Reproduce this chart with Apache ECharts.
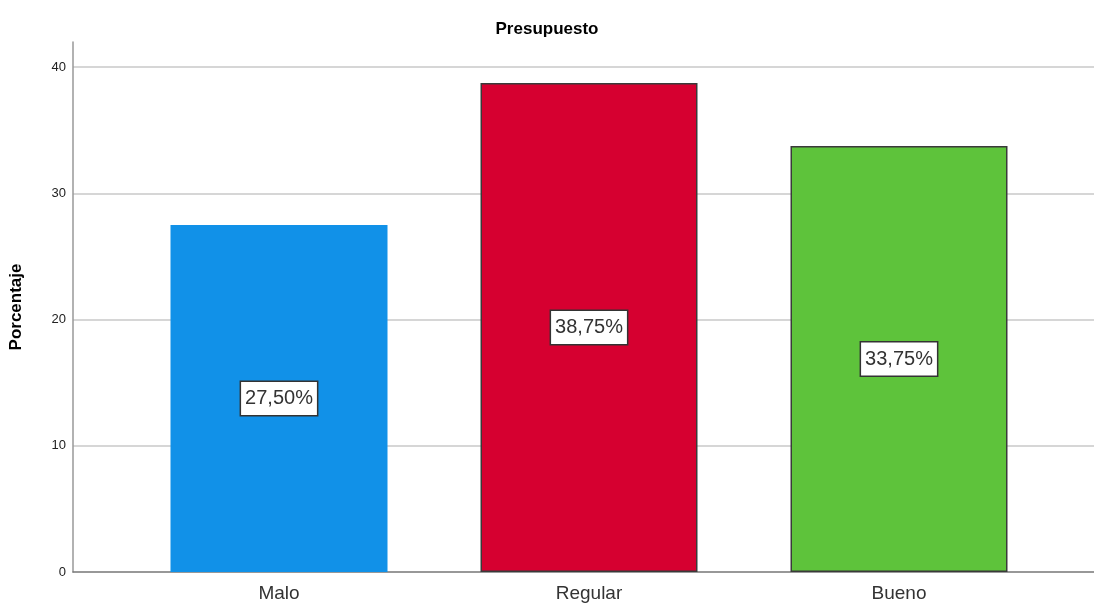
<!DOCTYPE html>
<html>
<head>
<meta charset="utf-8">
<script src="https://cdn.jsdelivr.net/npm/echarts@6/dist/echarts.min.js"></script>
<style>
  html, body { margin: 0; padding: 0; background: #fff; }
  #chart { width: 1094px; height: 604px; }
</style>
</head>
<body>
<div id="chart"></div>
<script>
// datos
const categorias = ['Malo', 'Regular', 'Bueno']
const porcentajes = [27.5, 38.75, 33.75]
const colores = ['#1191e8', '#d60030', '#5ec33b']
const bordes = ['#1191e8', '#3a3a3a', '#3a3a3a']
const yTicks = [0, 10, 20, 30, 40]

const yMax = 42

const chartInstance = echarts.init(document.getElementById('chart'))

// formato con coma decimal
const fmt = (v) => v.toFixed(2).replace('.', ',') + '%'

const chartSet = {
  backgroundColor: '#fff',
  textStyle: { fontFamily: 'Liberation Sans, Arial, sans-serif' },
  title: {
    text: 'Presupuesto',
    left: 'center',
    top: 16,
    textStyle: { fontSize: 17, fontWeight: 'bold', color: '#000' },
  },
  grid: [
    // marco del eje y + lineas de cuadricula
    { left: 72, right: 0, top: 42, bottom: 32 },
    // zona de barras
    { left: 124, right: 40, top: 42, bottom: 32 },
  ],
  xAxis: [
    {
      gridIndex: 0,
      type: 'category',
      data: [''],
      axisLine: { lineStyle: { color: '#777', width: 1.5 } },
      axisTick: { show: false },
      axisLabel: { show: false },
    },
    {
      gridIndex: 1,
      type: 'category',
      data: categorias,
      axisLine: { show: false },
      axisTick: { show: false },
      axisLabel: { fontSize: 19, color: '#333', margin: 12 },
    },
  ],
  yAxis: [
    {
      gridIndex: 0,
      type: 'value',
      min: 0,
      max: yMax,
      interval: 10,
      name: 'Porcentaje',
      nameLocation: 'middle',
      nameGap: 48,
      nameTextStyle: { fontSize: 17, fontWeight: 'bold', color: '#000' },
      axisLine: { show: true, lineStyle: { color: '#999', width: 1.5 } },
      axisTick: { show: false },
      axisLabel: {
        fontSize: 13,
        color: '#222',
        margin: 7,
        showMaxLabel: false,
        formatter: (v) => (yTicks.includes(v) ? String(v) : ''),
      },
      splitLine: {
        show: true,
        showMaxLine: false,
        showMinLine: false,
        lineStyle: { color: '#d6d6d6', width: 2 },
      },
    },
    {
      gridIndex: 1,
      type: 'value',
      min: 0,
      max: yMax,
      show: false,
      splitLine: { show: false },
    },
  ],
  series: [
    {
      type: 'bar',
      xAxisIndex: 1,
      yAxisIndex: 1,
      barWidth: 217,
      data: porcentajes.map((v, i) => ({
        value: v,
        itemStyle: { color: colores[i], borderColor: bordes[i], borderWidth: 1.5 },
      })),
      label: {
        show: true,
        position: 'inside',
        formatter: (p) => fmt(p.value),
        fontSize: 20,
        color: '#333',
        backgroundColor: '#fff',
        borderColor: '#333',
        borderWidth: 1.5,
        padding: [7, 4, 6, 4],
        borderRadius: 0,
      },
      silent: true,
    },
  ],
}

chartInstance.setOption(chartSet)
</script>
</body>
</html>
